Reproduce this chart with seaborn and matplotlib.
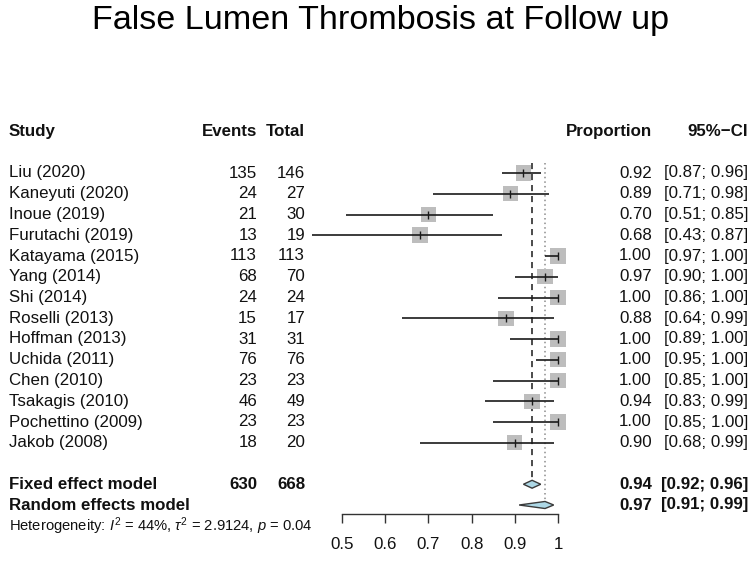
import numpy as np
import pandas as pd
import matplotlib
matplotlib.use("Agg")
import matplotlib.pyplot as plt
import matplotlib.transforms as mtransforms
from matplotlib.patches import Polygon
import seaborn as sns

# ---------------- data ----------------
studies = ["Liu (2020)", "Kaneyuti (2020)", "Inoue (2019)", "Furutachi (2019)",
           "Katayama (2015)", "Yang (2014)", "Shi (2014)", "Roselli (2013)",
           "Hoffman (2013)", "Uchida (2011)", "Chen (2010)", "Tsakagis (2010)",
           "Pochettino (2009)", "Jakob (2008)"]
events = [135, 24, 21, 13, 113, 68, 24, 15, 31, 76, 23, 46, 23, 18]
totals = [146, 27, 30, 19, 113, 70, 24, 17, 31, 76, 23, 49, 23, 20]
props = [0.92, 0.89, 0.70, 0.68, 1.00, 0.97, 1.00, 0.88, 1.00, 1.00, 1.00, 0.94, 1.00, 0.90]
lower = [0.87, 0.71, 0.51, 0.43, 0.97, 0.90, 0.86, 0.64, 0.89, 0.95, 0.85, 0.83, 0.85, 0.68]
upper = [0.96, 0.98, 0.85, 0.87, 1.00, 1.00, 1.00, 0.99, 1.00, 1.00, 1.00, 0.99, 1.00, 0.99]
weights = [7.3, 7.2, 7.3, 7.5, 6.9, 7.3, 6.9, 7.2, 6.9, 6.9, 6.9, 7.3, 6.9, 7.2]

fixed_label = "Fixed effect model"
random_label = "Random effects model"
fixed_events, fixed_total = 630, 668
fixed_est, fixed_lo, fixed_hi = 0.94, 0.92, 0.96
random_est, random_lo, random_hi = 0.97, 0.91, 0.99
het_text = r"Heterogeneity: $I^2$ = 44%, $\tau^2$ = 2.9124, $p$ = 0.04"
title = "False Lumen Thrombosis at Follow up"
xticks = [0.5, 0.6, 0.7, 0.8, 0.9, 1.0]
xticklabels = ["0.5", "0.6", "0.7", "0.8", "0.9", "1"]

# ---------------- style ----------------
sns.set_theme(style="white")
plt.rcParams["font.family"] = ["Liberation Sans", "DejaVu Sans"]
plt.rcParams["mathtext.fontset"] = "custom"
plt.rcParams["mathtext.rm"] = "Liberation Sans"
plt.rcParams["mathtext.it"] = "Liberation Sans:italic"
plt.rcParams["mathtext.bf"] = "Liberation Sans:bold"

W, H = 755, 561
fig = plt.figure(figsize=(W / 100, H / 100), dpi=100)

row0_px, row_step = 173.0, 20.75
def px2row(p):
    return (p - row0_px) / row_step

ax = fig.add_axes([342 / W, 0, 216 / W, 1])
ax.set_xlim(0.5, 1.0)
ax.set_ylim(px2row(H), px2row(0))
ax.patch.set_alpha(0)

n = len(studies)
rows = np.arange(n)
fixed_row = n + 1
random_row = n + 2
het_row = n + 3
header_row = -2

df = pd.DataFrame({"study": studies, "prop": props, "lo": lower, "hi": upper,
                   "w": weights, "row": rows})

# CI lines
ax.hlines(df["row"], df["lo"], df["hi"], color="#1a1a1a", lw=1.2, clip_on=False, zorder=2)
# squares (size by weight)
side_pt = 11.0 * np.sqrt(df["w"] / np.mean(df["w"]))
sns.scatterplot(data=df, x="prop", y="row", marker="s", s=(side_pt ** 2).values,
                color="#bdbdbd", linewidth=0, ax=ax, legend=False, clip_on=False, zorder=1)
# point estimate ticks
ax.scatter(df["prop"], df["row"], marker="|", s=30, color="#1a1a1a", linewidths=1.0,
           clip_on=False, zorder=3)

# reference lines
top_row = px2row(163)
ax.vlines(fixed_est, top_row, fixed_row - 0.2, colors="#1a1a1a", lw=1.1,
          linestyles=(0, (4, 3.2)), zorder=0)
ax.vlines(random_est, top_row, random_row - 0.17, colors="#8c8c8c", lw=1.1,
          linestyles=(0, (1, 2)), zorder=0)

# diamonds
def diamond(lo, est, hi, r, h):
    return Polygon([(lo, r), (est, r - h), (hi, r), (est, r + h)], closed=True,
                   facecolor="#add8e6", edgecolor="#3a3a3a", lw=1.0, zorder=4, clip_on=False)
ax.add_patch(diamond(fixed_lo, fixed_est, fixed_hi, fixed_row, 0.19))
ax.add_patch(diamond(random_lo, random_est, random_hi, random_row, 0.17))

# axis
for s in ["top", "left", "right"]:
    ax.spines[s].set_visible(False)
ax.spines["bottom"].set_position(("data", px2row(514)))
ax.spines["bottom"].set_bounds(0.5, 1.0)
ax.spines["bottom"].set_color("#333333")
ax.spines["bottom"].set_linewidth(1.0)
ax.set_yticks([])
ax.set_xticks(xticks)
ax.set_xticklabels(xticklabels)
ax.tick_params(axis="x", direction="out", length=6.5, width=1.0, color="#333333",
               pad=10, labelsize=12.2, labelcolor="#111111", bottom=True)
ax.set_xlabel("")
ax.set_ylabel("")

# ---------------- text columns ----------------
tr = mtransforms.blended_transform_factory(fig.transFigure, ax.transData)
fs = 12.2
col_study, col_events, col_total, col_prop, col_ci = 9 / W, 257 / W, 305 / W, 652 / W, 748 / W

def t(x, r, s, ha="left", bold=False, size=fs):
    fig.text(x, r, s, transform=tr, ha=ha, va="center", fontsize=size,
             fontweight="bold" if bold else "normal", color="#111111")

t(col_study, header_row, "Study", bold=True)
t(col_events, header_row, "Events", ha="right", bold=True)
t(col_total, header_row, "Total", ha="right", bold=True)
t(col_prop, header_row, "Proportion", ha="right", bold=True)
t(col_ci, header_row, "95%\u2212CI", ha="right", bold=True)

for i in range(n):
    t(col_study, rows[i], studies[i])
    t(col_events, rows[i], str(events[i]), ha="right")
    t(col_total, rows[i], str(totals[i]), ha="right")
    t(col_prop, rows[i], f"{props[i]:.2f}", ha="right")
    t(col_ci, rows[i], f"[{lower[i]:.2f}; {upper[i]:.2f}]", ha="right")

t(col_study, fixed_row, fixed_label, bold=True)
t(col_events, fixed_row, str(fixed_events), ha="right", bold=True)
t(col_total, fixed_row, str(fixed_total), ha="right", bold=True)
t(col_prop, fixed_row, f"{fixed_est:.2f}", ha="right", bold=True)
t(col_ci, fixed_row, f"[{fixed_lo:.2f}; {fixed_hi:.2f}]", ha="right", bold=True)

t(col_study, random_row, random_label, bold=True)
t(col_prop, random_row, f"{random_est:.2f}", ha="right", bold=True)
t(col_ci, random_row, f"[{random_lo:.2f}; {random_hi:.2f}]", ha="right", bold=True)

t(col_study, het_row, het_text, size=10.6)

fig.text(381 / W, 1 - 21 / H, title, ha="center", va="center", fontsize=24.6, color="#000000")

fig.savefig("out.png", dpi=100)
